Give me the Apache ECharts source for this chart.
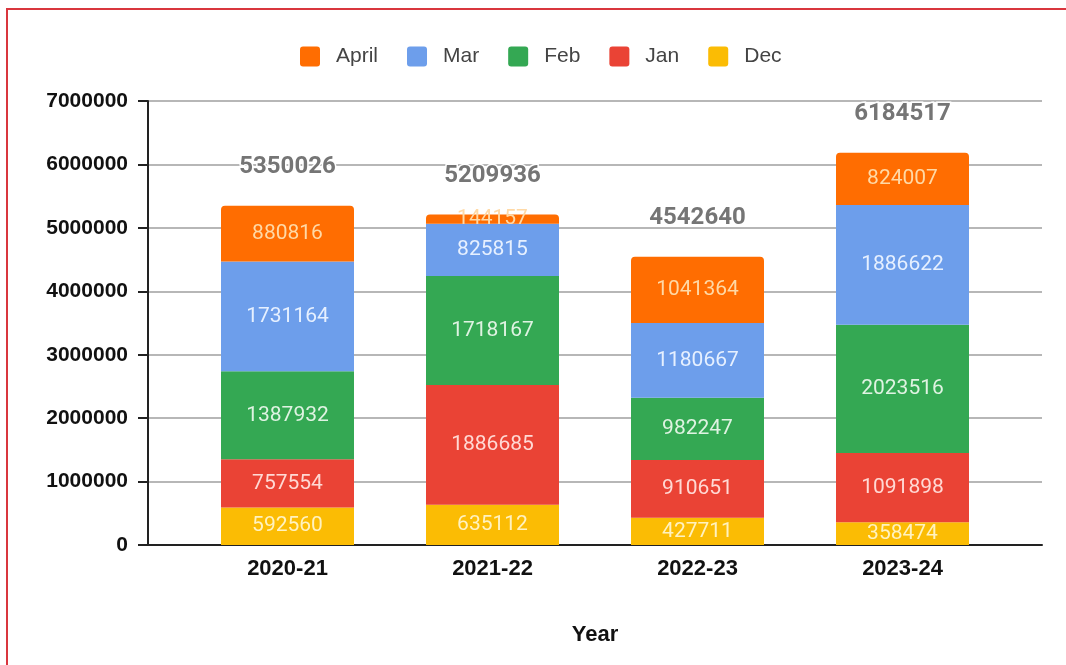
<!DOCTYPE html>
<html>
<head>
<meta charset="utf-8">
<script src="https://cdn.jsdelivr.net/npm/echarts@6/dist/echarts.min.js"></script>
<style>
  html, body { margin: 0; padding: 0; background: #fff; overflow: hidden; }
  #frame { position: absolute; left: 6px; top: 8px; width: 1100px; height: 700px; border: 2px solid #d9363e; box-sizing: border-box; }
  #chart { position: absolute; left: 0; top: 0; width: 1066px; height: 665px; }
</style>
</head>
<body>
<div id="frame"></div>
<div id="chart"></div>
<script>
(function () {
  var years = ['2020-21', '2021-22', '2022-23', '2023-24'];
  var dec = [592560, 635112, 427711, 358474];
  var jan = [757554, 1886685, 910651, 1091898];
  var feb = [1387932, 1718167, 982247, 2023516];
  var mar = [1731164, 825815, 1180667, 1886622];
  var april = [880816, 144157, 1041364, 824007];
  var totals = [5350026, 5209936, 4542640, 6184517];
  var legendOrder = ['April', 'Mar', 'Feb', 'Jan', 'Dec'];

  var colors = { Dec: '#fbbc04', Jan: '#ea4335', Feb: '#34a853', Mar: '#6d9eeb', April: '#ff6d01' };
  var labelColors = { Dec: '#fff2c0', Jan: '#ffd9d4', Feb: '#dff3e2', Mar: '#e6f0ff', April: '#ffd9a6' };
  var boxIcon = 'path://M3,0 L17,0 Q20,0 20,3 L20,17 Q20,20 17,20 L3,20 Q0,20 0,17 L0,3 Q0,0 3,0 Z';

  function seg(name, data, radius) {
    return {
      name: name,
      type: 'bar',
      stack: 'total',
      xAxisIndex: 1,
      yAxisIndex: 1,
      data: data,
      barWidth: 133,
      itemStyle: { color: colors[name], borderRadius: radius || 0 },
      label: {
        show: true,
        position: 'inside',
        color: labelColors[name],
        fontFamily: 'Roboto',
        fontSize: 21
      }
    };
  }

  var chart = echarts.init(document.getElementById('chart'), null, { renderer: 'canvas' });
  chart.setOption({
    animation: false,
    legend: {
      data: legendOrder,
      left: 295,
      top: 41,
      itemWidth: 20,
      itemHeight: 20,
      itemGap: 29,
      icon: boxIcon,
      textStyle: { color: '#444', fontFamily: 'Liberation Sans', fontSize: 21, padding: [0, 0, 0, 11] }
    },
    grid: [
      { left: 148, right: 24, top: 101, bottom: 120 },
      { left: 185, right: 61, top: 101, bottom: 120 }
    ],
    xAxis: [
      {
        gridIndex: 0,
        type: 'value',
        min: 0,
        max: 1,
        axisLabel: { show: false },
        axisTick: { show: false },
        splitLine: { show: false },
        axisLine: { show: true, onZero: false, lineStyle: { color: '#222', width: 2 } },
        name: 'Year',
        nameLocation: 'middle',
        nameGap: 79,
        nameTextStyle: { color: '#111', fontFamily: 'Liberation Sans', fontWeight: 'bold', fontSize: 22 }
      },
      {
        gridIndex: 1,
        type: 'category',
        data: years,
        axisLine: { show: false },
        axisTick: { show: false },
        axisLabel: { color: '#111', fontFamily: 'Liberation Sans', fontWeight: 'bold', fontSize: 22, margin: 13 }
      }
    ],
    yAxis: [
      {
        gridIndex: 0,
        type: 'value',
        min: 0,
        max: 7000000,
        interval: 1000000,
        axisLine: { show: true, lineStyle: { color: '#222', width: 2 } },
        axisTick: { show: true, length: 10, lineStyle: { color: '#222', width: 2 } },
        axisLabel: {
          color: '#111', fontFamily: 'Liberation Sans', fontWeight: 'bold', fontSize: 21, margin: 20,
          formatter: function (v) { return String(v); }
        },
        splitLine: { lineStyle: { color: '#b7b7b7', width: 2 } }
      },
      {
        gridIndex: 1,
        type: 'value',
        min: 0,
        max: 7000000,
        interval: 1000000,
        show: false,
        splitLine: { show: false }
      }
    ],
    series: [
      seg('Dec', dec),
      seg('Jan', jan),
      seg('Feb', feb),
      seg('Mar', mar),
      seg('April', april, [4, 4, 0, 0]),
      {
        name: 'Total',
        type: 'bar',
        stack: 'total',
        xAxisIndex: 1,
        yAxisIndex: 1,
        data: totals.map(function () { return 0; }),
        barWidth: 133,
        itemStyle: { color: 'transparent' },
        label: {
          show: true,
          position: 'top',
          distance: 27,
          formatter: function (p) { return totals[p.dataIndex]; },
          color: '#757575',
          fontFamily: 'Roboto',
          fontWeight: 'bold',
          fontSize: 24,
          textBorderColor: '#fff',
          textBorderWidth: 3
        }
      }
    ]
  });
})();
</script>
</body>
</html>
